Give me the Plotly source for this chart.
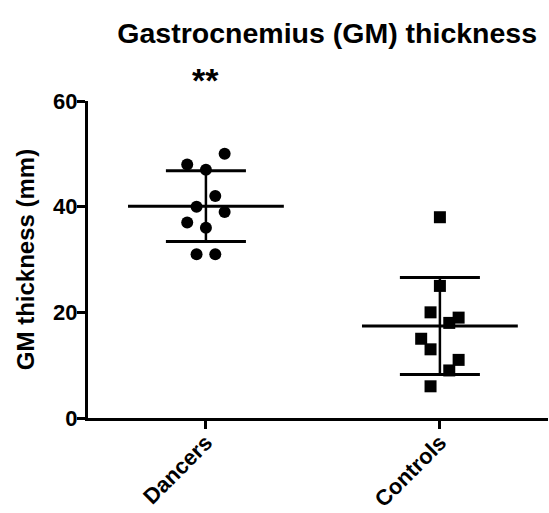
import numpy as np
import plotly.graph_objects as go

# Group labels and individual GM thickness measurements (mm)
groups = ["Dancers", "Controls"]
dancers = [50, 48, 47, 42, 40, 39, 37, 36, 31, 31]
controls = [38, 25, 20, 19, 18, 15, 13, 11, 9, 6]
y_ticks = [0, 20, 40, 60]
significance = "**"
significance_y = 64

# horizontal spread of points within a column (in half-marker steps)
spread_dancers = [2, -2, 0, 1, -1, 2, -2, 0, -1, 1]
spread_controls = [0, 0, -1, 2, 1, -2, -1, 2, 1, -1]
STEP = 0.04
MEAN_HALF = 0.333
SD_HALF = 0.171
Y_RANGE = [0, 60]

FONT = "Liberation Sans, Arial, sans-serif"

fig = go.Figure()

series = [
    (dancers, spread_dancers, "circle", 12),
    (controls, spread_controls, "square", 12),
]

for i, (vals, spread, symbol, msize) in enumerate(series):
    arr = np.array(vals, dtype=float)
    m = arr.mean()
    sd = arr.std(ddof=1)
    # mean line
    fig.add_trace(go.Scatter(x=[i - MEAN_HALF, i + MEAN_HALF], y=[m, m], mode="lines",
                             line=dict(color="black", width=3), showlegend=False,
                             hoverinfo="skip"))
    # SD caps
    for v in (m - sd, m + sd):
        fig.add_trace(go.Scatter(x=[i - SD_HALF, i + SD_HALF], y=[v, v], mode="lines",
                                 line=dict(color="black", width=3), showlegend=False,
                                 hoverinfo="skip"))
    # SD whisker
    fig.add_trace(go.Scatter(x=[i, i], y=[m - sd, m + sd], mode="lines",
                             line=dict(color="black", width=2.5), showlegend=False,
                             hoverinfo="skip"))

for i, (vals, spread, symbol, msize) in enumerate(series):
    xs = [i + s * STEP for s in spread]
    fig.add_trace(go.Scatter(x=xs, y=vals, mode="markers", name=groups[i],
                             marker=dict(symbol=symbol, size=msize, color="black",
                                         line=dict(width=0)),
                             showlegend=False, cliponaxis=False))

# significance marker above the first group (placed in paper units from the data value)
sig_paper = (significance_y - Y_RANGE[0]) / (Y_RANGE[1] - Y_RANGE[0])
fig.add_annotation(x=0, xref="x", y=sig_paper, yref="paper", yanchor="middle",
                   text="<b>%s</b>" % significance, showarrow=False,
                   font=dict(family=FONT, size=34, color="black"))

fig.update_layout(
    width=549, height=513,
    margin=dict(l=88, r=1, t=101, b=95),
    paper_bgcolor="white", plot_bgcolor="white",
    title=dict(text="<b>Gastrocnemius (GM) thickness</b>", x=0.596, xanchor="center",
               y=0.936, yanchor="middle",
               font=dict(family=FONT, size=28.5, color="black")),
    font=dict(family=FONT, color="black"),
)

fig.update_xaxes(
    range=[-0.504, 1.462], tickvals=[0, 1], ticktext=["<b>%s</b>" % g for g in groups],
    tickangle=-45, showline=True, linewidth=3, linecolor="black",
    ticks="outside", ticklen=8, tickwidth=3, tickcolor="black", automargin=False,
    ticklabelstandoff=-8,
    showgrid=False, zeroline=False, tickfont=dict(family=FONT, size=22, color="black"),
)
fig.update_yaxes(
    range=Y_RANGE, tickvals=y_ticks, ticktext=["<b>%d</b>" % t for t in y_ticks],
    showline=True, linewidth=3, linecolor="black", automargin=False,
    ticks="outside", ticklen=8, tickwidth=3, tickcolor="black",
    ticklabelstandoff=-5,
    showgrid=False, zeroline=False, tickfont=dict(family=FONT, size=22, color="black"),
    title=dict(text="<b>GM thickness (mm)</b>", font=dict(family=FONT, size=24, color="black"),
               standoff=12),
)

fig.write_html("out.html")
